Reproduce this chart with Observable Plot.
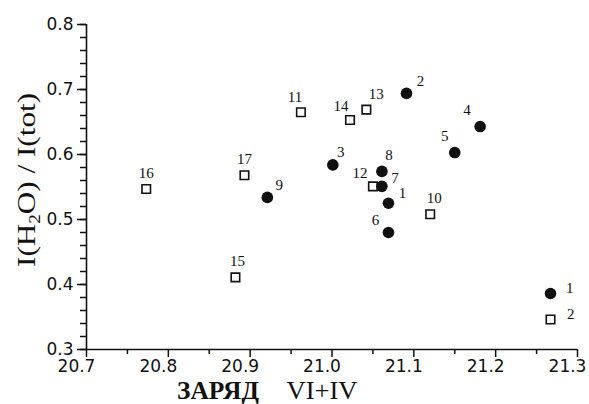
<!DOCTYPE html>
<html><head><meta charset="utf-8">
<script src="https://cdn.jsdelivr.net/npm/d3@7"></script>
<script src="https://cdn.jsdelivr.net/npm/@observablehq/plot@0.6"></script>
<style>body{margin:0;background:#fff}</style>
</head><body><div id="chart"></div>
<script>
// Data
const ids    = [1, 2, 3, 4, 5, 6, 7, 8, 9, 10, 11, 12, 13, 14, 15, 16, 17];
const charge = [21.069, 21.091, 21.001, 21.181, 21.150, 21.069, 21.061, 21.061, 20.921,
                21.120, 20.962, 21.050, 21.042, 21.022, 20.882, 20.773, 20.893];
const ratio  = [0.525, 0.694, 0.584, 0.643, 0.603, 0.480, 0.551, 0.574, 0.534,
                0.508, 0.665, 0.551, 0.669, 0.653, 0.411, 0.547, 0.568];
const group  = [1, 1, 1, 1, 1, 1, 1, 1, 1, 2, 2, 2, 2, 2, 2, 2, 2];
const xTicks = [20.7, 20.8, 20.9, 21.0, 21.1, 21.2, 21.3];
const yTicks = [0.3, 0.4, 0.5, 0.6, 0.7, 0.8];
const legendLabels = ["1", "2"];

// Label placement (pixel offsets from each point), style only
const labelDx = {1:14, 2:14, 3:8, 4:-13, 5:-10, 6:-13, 7:13, 8:7, 9:12, 10:4, 11:-6, 12:-13, 13:10, 14:-9, 15:2, 16:0, 17:0};
const labelDy = {1:-10, 2:-12, 3:-13, 4:-16, 5:-16, 6:-12, 7:-8, 8:-16, 9:-12, 10:-16, 11:-15, 12:-13, 13:-15, 14:-14, 15:-16, 16:-16, 17:-16};

const data = ids.map((id, i) => ({id, x: charge[i], y: ratio[i], g: group[i]}));
const xMinor = d3.range(20.75, 21.3, 0.1);
const yMinor = d3.range(0.3, 0.8001, 0.02);

const serif = "'Liberation Serif', 'Times New Roman', serif";
const sans = "'DejaVu Sans', sans-serif";

const labelMarks = data.map(d => Plot.text([d], {
  x: "x", y: "y", text: d => String(d.id),
  dx: labelDx[d.id], dy: labelDy[d.id],
  fontFamily: serif, fontSize: 15, fill: "#111"
}));

const chart = Plot.plot({
  width: 589, height: 404,
  marginLeft: 86, marginRight: 12, marginTop: 24, marginBottom: 55,
  x: {domain: [20.7, 21.3]},
  y: {domain: [0.3, 0.8]},
  style: {background: "#fff", color: "#111", overflow: "visible"},
  marks: [
    Plot.axisX(xMinor, {tickSize: 5, text: null, label: null, strokeWidth: 1.5}),
    Plot.axisX(xTicks, {tickSize: 8, text: null, label: null, strokeWidth: 1.5}),
    Plot.axisX(xTicks, {tickSize: 0, tickPadding: 10, dx: -10, tickFormat: d3.format(".1f"), label: null,
      fontFamily: sans, fontSize: 17}),
    Plot.axisY(yMinor, {tickSize: 6, text: null, label: null, strokeWidth: 1.5}),
    Plot.axisY(yTicks, {tickSize: 9, tickPadding: 4, tickFormat: d3.format(".1f"), label: null,
      fontFamily: sans, fontSize: 17, strokeWidth: 1.5}),
    Plot.ruleX([20.7], {stroke: "#111", strokeWidth: 1.6}),
    Plot.ruleY([0.3], {stroke: "#111", strokeWidth: 1.6}),
    Plot.dot(data.filter(d => d.g === 2), {x: "x", y: "y", symbol: "square", r: 4.8,
      fill: "#fff", stroke: "#111", strokeWidth: 1.6}),
    Plot.dot(data.filter(d => d.g === 1), {x: "x", y: "y", symbol: "circle", r: 5.8,
      fill: "#111", stroke: "none"}),
    ...labelMarks,
    // legend
    Plot.dot([legendLabels[0]], {frameAnchor: "bottom-right", dx: -27, dy: -56, r: 5.8, fill: "#111", stroke: "none"}),
    Plot.dot([legendLabels[1]], {frameAnchor: "bottom-right", dx: -27, dy: -30, symbol: "square", r: 4.8,
      fill: "#fff", stroke: "#111", strokeWidth: 1.6}),
    Plot.text([legendLabels[0]], {frameAnchor: "bottom-right", dx: -4, dy: -57, text: d => d,
      textAnchor: "end", fontFamily: serif, fontSize: 15, fill: "#111"}),
    Plot.text([legendLabels[1]], {frameAnchor: "bottom-right", dx: -3, dy: -31, text: d => d,
      textAnchor: "end", fontFamily: serif, fontSize: 15, fill: "#111"})
  ]
});

const svg = d3.select(chart.tagName.toLowerCase() === "svg" ? chart : chart.querySelector("svg"));
// Y axis title
const yt = svg.append("text")
  .attr("transform", "translate(35,180) rotate(-90)")
  .attr("text-anchor", "middle")
  .attr("font-family", serif).attr("font-size", 26).attr("fill", "#111")
  .attr("textLength", 174).attr("lengthAdjust", "spacingAndGlyphs");
yt.append("tspan").text("I(H");
yt.append("tspan").attr("font-size", 16).attr("dy", 5).text("2");
yt.append("tspan").attr("dy", -5).text("O) / I(tot)");
// X axis title
svg.append("text").attr("x", 218).attr("y", 399)
  .attr("font-family", serif).attr("font-size", 26).attr("font-weight", "bold").attr("fill", "#111")
  .attr("textLength", 82).attr("lengthAdjust", "spacingAndGlyphs").text("ЗАРЯД");
svg.append("text").attr("x", 322).attr("y", 399)
  .attr("font-family", serif).attr("font-size", 26).attr("fill", "#111")
  .attr("textLength", 71).attr("lengthAdjust", "spacingAndGlyphs").text("VI+IV");

document.getElementById("chart").appendChild(chart);
</script>
</body></html>
